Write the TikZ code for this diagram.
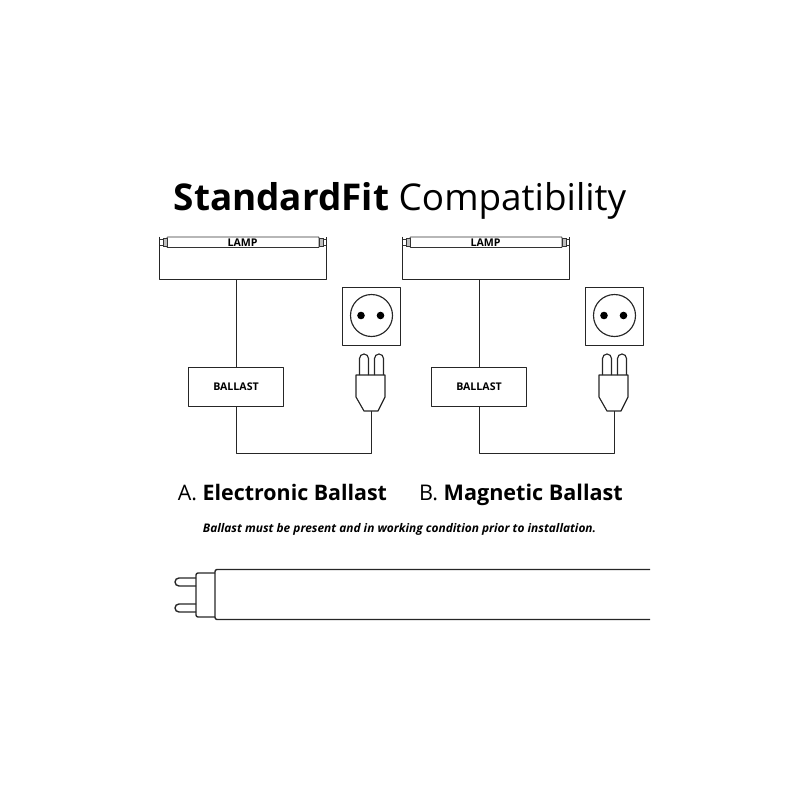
\documentclass[tikz,border=0pt]{standalone}
\usepackage{fontspec}
\setmainfont{Open Sans}
\tikzset{
  x=1pt,y=-1pt,
  ln/.style={draw=black!85,line width=1.15pt,line join=round},
  thin ln/.style={draw=black!80,line width=.85pt},
  boxn/.style={ln,fill=white,inner sep=0pt,minimum width=95pt,minimum height=39pt,font=\bfseries\fontsize{10.6}{11}\selectfont},
  sq/.style={ln,inner sep=0pt,minimum size=58pt},
  outlet/.style={ln,circle,inner sep=0pt,minimum size=42pt},
  tubelabel/.style={font=\bfseries\fontsize{10.6}{11}\selectfont,inner sep=0pt},
  head/.style={inner sep=0pt,anchor=base},
  pics/unit/.style={code={
    % lamp frame
    \coordinate (-lampbase) at (236.5,279.5);
    \draw[ln] (159.5,236.5) -- (159.5,279.5) -- (326.5,279.5) -- (326.5,236.5);
    % tube
    \draw[thin ln,rounded corners=.6pt] (167,237) rectangle (319,247.5);
    \draw[thin ln,fill=black!25] (163,238.5) rectangle (167,246);
    \draw[thin ln] (160,239.5) -- (163,239.5) (160,245) -- (163,245);
    \draw[thin ln,fill=black!25] (319,238.5) rectangle (323,246);
    \draw[thin ln] (323,239.5) -- (326,239.5) (323,245) -- (326,245);
    \node[tubelabel] at (242.5,242.7) {LAMP};
    % ballast
    \node[boxn] (-ballast) at (236,387) {BALLAST};
    % socket
    \node[sq] (-socket) at (371.5,316.5) {};
    \node[outlet] (-outlet) at (371.5,315.5) {};
    \fill[black] (361,315.5) circle (3.8);
    \fill[black] (380.5,315.5) circle (3.8);
    % plug
    \draw[ln] (359.5,375) -- (359.5,358.5) arc[start angle=180,end angle=360,radius=4.5] -- (368.5,375);
    \draw[ln] (374.5,375) -- (374.5,358.5) arc[start angle=180,end angle=360,radius=4.5] -- (383.5,375);
    \draw[ln] (356,375) -- (385,375) -- (385,397) -- (378,411) -- (364,411) -- (356,397) -- cycle;
    \coordinate (-plugbase) at (371.5,411);
    % wires
    \draw[ln] (-lampbase) -- (-ballast.north -| -lampbase);
    \draw[ln] (-ballast.south -| -lampbase) -- (236.5,453.5) -- (371.5,453.5) -- (-plugbase);
  }}
}
\begin{document}
\begin{tikzpicture}
\useasboundingbox (0,0) rectangle (800,800);
\node[head] (title) at (400,210) {\fontsize{36.9}{40}\selectfont\textbf{StandardFit} Compatibility};
\pic (a) at (0,0) {unit};
\pic (b) at (243,0) {unit};
\node[head] (capA) at (282.5,500) {\fontsize{21.4}{24}\selectfont A. \textbf{Electronic Ballast}};
\node[head] (capB) at (521,500) {\fontsize{21.6}{24}\selectfont B. \textbf{Magnetic Ballast}};
\node[head] (note) at (399.5,532.5) {\fontsize{11.9}{14}\selectfont\bfseries\itshape Ballast must be present and in working condition prior to installation.};
% large tube
\draw[ln,line width=1.4pt,rounded corners=2pt] (650,569.5) -- (215,569.5) -- (215,619.5) -- (650,619.5);
\draw[ln,line width=1.4pt,rounded corners=2pt] (215,573) -- (196,573) -- (196,617) -- (215,617);
\draw[ln,line width=1.4pt] (196,578) -- (179,578) arc[start angle=270,end angle=90,radius=4] -- (196,586);
\draw[ln,line width=1.4pt] (196,604) -- (179,604) arc[start angle=270,end angle=90,radius=4] -- (196,612);
\end{tikzpicture}
\end{document}
